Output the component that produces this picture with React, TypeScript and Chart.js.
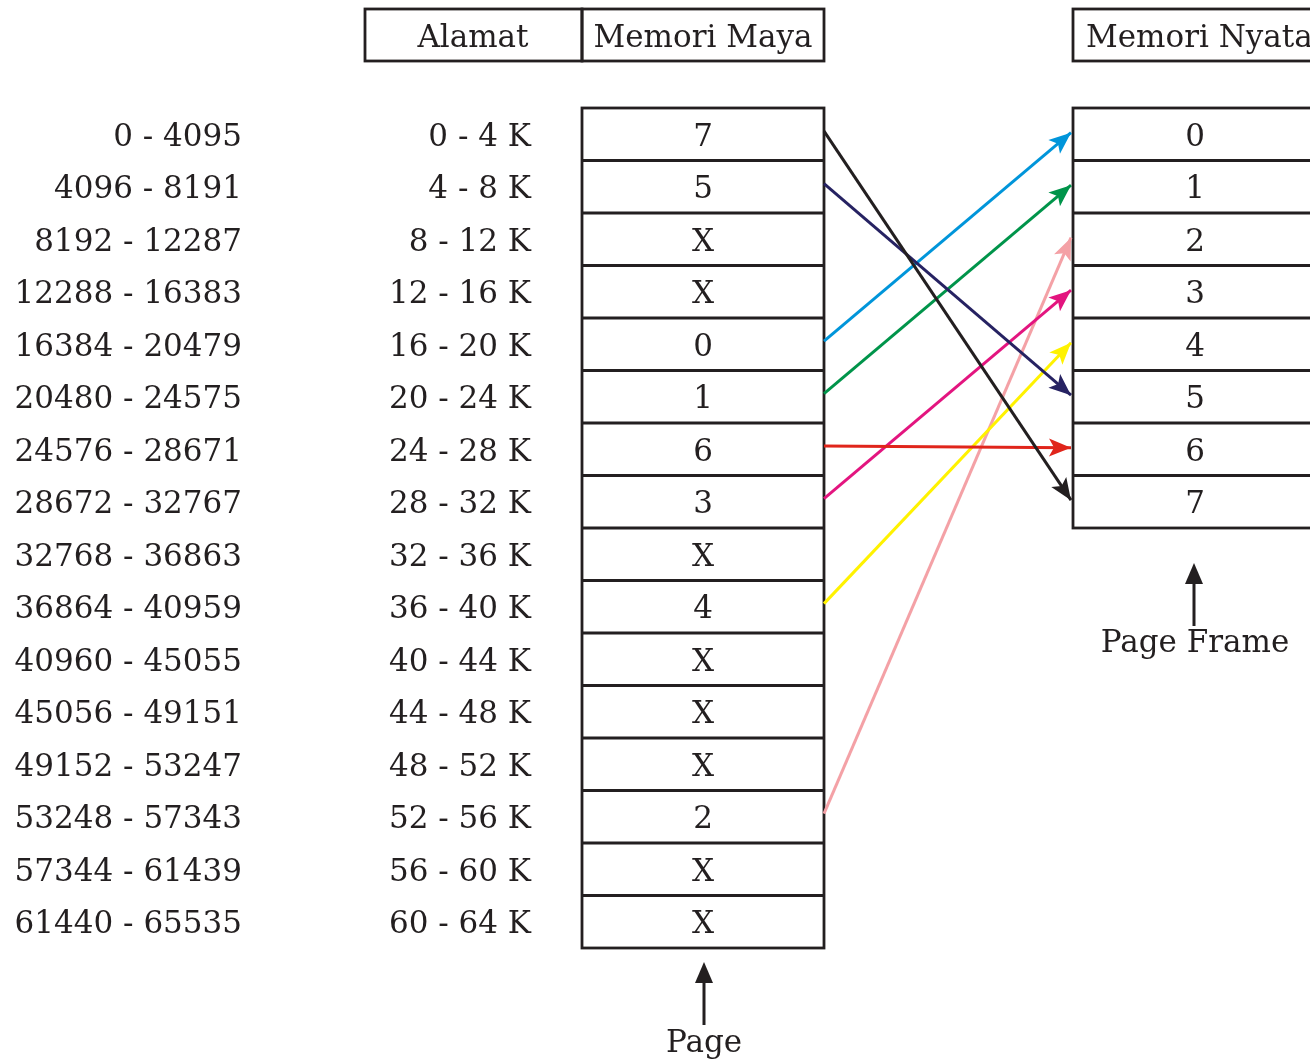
import React, { useEffect, useRef } from "react";
import { Chart, registerables } from "chart.js";

Chart.register(...registerables);

// ---------- data ----------
const byteRanges = [
  "0 - 4095", "4096 - 8191", "8192 - 12287", "12288 - 16383",
  "16384 - 20479", "20480 - 24575", "24576 - 28671", "28672 - 32767",
  "32768 - 36863", "36864 - 40959", "40960 - 45055", "45056 - 49151",
  "49152 - 53247", "53248 - 57343", "57344 - 61439", "61440 - 65535",
];
const kRanges = [
  "0 - 4 K", "4 - 8 K", "8 - 12 K", "12 - 16 K", "16 - 20 K", "20 - 24 K",
  "24 - 28 K", "28 - 32 K", "32 - 36 K", "36 - 40 K", "40 - 44 K", "44 - 48 K",
  "48 - 52 K", "52 - 56 K", "56 - 60 K", "60 - 64 K",
];
const pageEntries = ["7", "5", "X", "X", "0", "1", "6", "3", "X", "4", "X", "X", "X", "2", "X", "X"];
const frameLabels = ["0", "1", "2", "3", "4", "5", "6", "7"];
const mappedPages = [0, 1, 4, 5, 6, 7, 9, 13];
const mappedFrames = [7, 5, 0, 1, 6, 3, 4, 2];
const arrowColors = ["#231f20", "#262262", "#0095da", "#00944a", "#e0251b", "#e3157f", "#fff200", "#f4a1a6"];
const headerTitles = ["Alamat", "Memori Maya", "Memori Nyata"];
const pointerLabels = ["Page", "Page Frame"];

// ---------- layout ----------
const W = 1310;
const H = 1060;
const ROW_TOP = 108;
const ROW_H = 52.5;
const Y_MIN = -ROW_TOP / ROW_H;
const Y_MAX = (H - ROW_TOP) / ROW_H;
const PAGE_L = 582;
const PAGE_R = 824;
const FRAME_L = 1073;
const FRAME_R = 1322;
const TIP_X = 1071;
const INK = "#231f20";
const FONT = '31px "DejaVu Serif"';

const diagramPlugin = {
  id: "diagram",
  beforeDatasetsDraw(chart: any) {
    const ctx = chart.ctx as CanvasRenderingContext2D;
    const xs = chart.scales.x;
    const ys = chart.scales.y;
    const X = (v: number) => xs.getPixelForValue(v);
    const Y = (row: number) => ys.getPixelForValue(row);
    const PY = (px: number) => Y((px - ROW_TOP) / ROW_H);

    ctx.save();
    ctx.fillStyle = "#ffffff";
    ctx.fillRect(0, 0, chart.width, chart.height);
    ctx.strokeStyle = INK;
    ctx.fillStyle = INK;
    ctx.lineWidth = 2.8;
    ctx.font = FONT;

    // header boxes
    ctx.strokeRect(X(365), PY(9), X(PAGE_L) - X(365), PY(61) - PY(9));
    ctx.strokeRect(X(PAGE_L), PY(9), X(PAGE_R) - X(PAGE_L), PY(61) - PY(9));
    ctx.strokeRect(X(FRAME_L), PY(9), X(FRAME_R) - X(FRAME_L), PY(61) - PY(9));
    ctx.textBaseline = "alphabetic";
    ctx.textAlign = "center";
    ctx.fillText(headerTitles[0], X(473), PY(47));
    ctx.fillText(headerTitles[1], X(703), PY(47));
    ctx.textAlign = "left";
    ctx.fillText(headerTitles[2], X(1086), PY(47));

    // page table
    ctx.strokeRect(X(PAGE_L), Y(0), X(PAGE_R) - X(PAGE_L), Y(pageEntries.length) - Y(0));
    for (let i = 1; i < pageEntries.length; i++) {
      ctx.beginPath();
      ctx.moveTo(X(PAGE_L), Y(i));
      ctx.lineTo(X(PAGE_R), Y(i));
      ctx.stroke();
    }
    // frame table
    ctx.strokeRect(X(FRAME_L), Y(0), X(FRAME_R) - X(FRAME_L), Y(frameLabels.length) - Y(0));
    for (let i = 1; i < frameLabels.length; i++) {
      ctx.beginPath();
      ctx.moveTo(X(FRAME_L), Y(i));
      ctx.lineTo(X(FRAME_R), Y(i));
      ctx.stroke();
    }

    const base = 11.5;
    pageEntries.forEach((t, i) => {
      const cy = Y(i + 0.5) + base;
      ctx.textAlign = "right";
      ctx.fillText(byteRanges[i], X(242), cy);
      ctx.fillText(kRanges[i], X(531), cy);
      ctx.textAlign = "center";
      ctx.fillText(t, X(703), cy);
    });
    frameLabels.forEach((t, i) => {
      ctx.textAlign = "center";
      ctx.fillText(t, X(1195), Y(i + 0.5) + base);
    });

    // pointer arrows
    const pointer = (x: number, tip: number, bottom: number) => {
      ctx.beginPath();
      ctx.moveTo(X(x), PY(tip + 15));
      ctx.lineTo(X(x), PY(bottom));
      ctx.lineWidth = 3;
      ctx.stroke();
      ctx.beginPath();
      ctx.moveTo(X(x), PY(tip));
      ctx.lineTo(X(x) + 9, PY(tip + 21));
      ctx.lineTo(X(x) - 9, PY(tip + 21));
      ctx.closePath();
      ctx.fill();
    };
    pointer(704, 962, 1025);
    pointer(1194, 563, 626);
    ctx.textAlign = "center";
    ctx.fillText(pointerLabels[0], X(704), PY(1052));
    ctx.fillText(pointerLabels[1], X(1195), PY(652));
    ctx.restore();
  },
  afterDatasetsDraw(chart: any) {
    const ctx = chart.ctx as CanvasRenderingContext2D;
    chart.data.datasets.forEach((ds: any, i: number) => {
      const meta = chart.getDatasetMeta(i);
      const p0 = meta.data[0];
      const p1 = meta.data[1];
      const ang = Math.atan2(p1.y - p0.y, p1.x - p0.x);
      const L = 22;
      const hw = 9;
      const notch = 5;
      const c = Math.cos(ang);
      const s = Math.sin(ang);
      const pt = (along: number, side: number) => [p1.x - along * c - side * s, p1.y - along * s + side * c];
      ctx.save();
      ctx.fillStyle = ds.borderColor;
      ctx.beginPath();
      const a = pt(0, 0);
      const b = pt(L, hw);
      const m = pt(L - notch, 0);
      const d = pt(L, -hw);
      ctx.moveTo(a[0], a[1]);
      ctx.lineTo(b[0], b[1]);
      ctx.lineTo(m[0], m[1]);
      ctx.lineTo(d[0], d[1]);
      ctx.closePath();
      ctx.fill();
      ctx.restore();
    });
  },
};

export default function App() {
  const ref = useRef<HTMLCanvasElement | null>(null);
  useEffect(() => {
    document.body.style.margin = "0";
    if (!ref.current) return;
    const datasets = mappedPages.map((p, i) => ({
      label: `page ${p} -> frame ${mappedFrames[i]}`,
      data: [
        { x: PAGE_R, y: p + 0.44 },
        { x: TIP_X, y: mappedFrames[i] + 0.47 },
      ],
      showLine: true,
      borderColor: arrowColors[i],
      backgroundColor: arrowColors[i],
      borderWidth: 3,
      pointRadius: 0,
      borderCapStyle: "butt" as const,
    }));
    const chart = new Chart(ref.current, {
      type: "scatter",
      data: { datasets },
      options: {
        animation: false,
        responsive: false,
        devicePixelRatio: 1,
        layout: { padding: 0 },
        plugins: { legend: { display: false }, tooltip: { enabled: false } },
        scales: {
          x: { type: "linear", min: 0, max: W, display: false },
          y: { type: "linear", min: Y_MIN, max: Y_MAX, reverse: true, display: false },
        },
      },
      plugins: [diagramPlugin],
    });
    return () => chart.destroy();
  }, []);
  return <canvas ref={ref} width={W} height={H} style={{ display: "block" }} />;
}
